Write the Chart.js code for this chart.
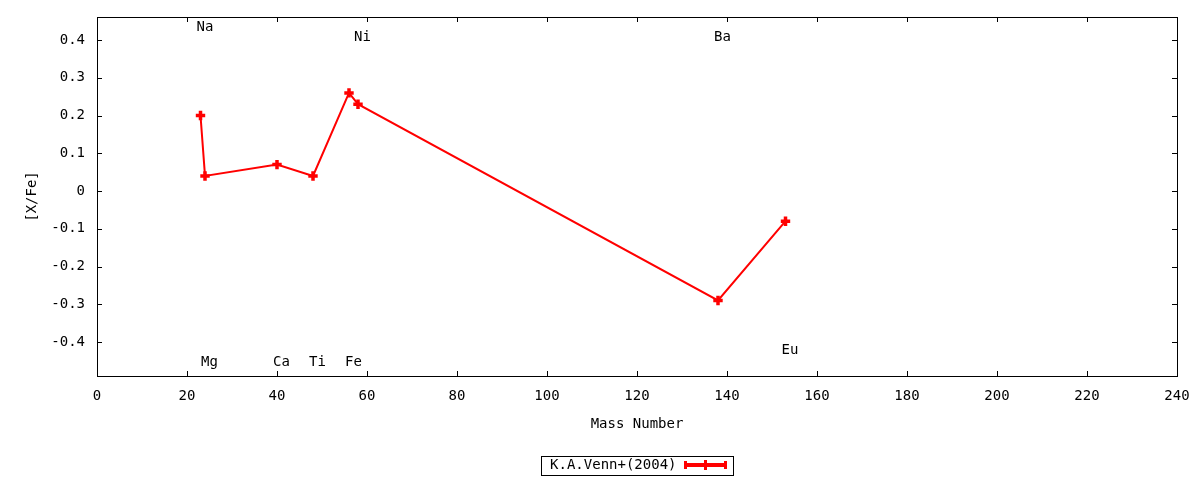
<!DOCTYPE html>
<html>
<head>
<meta charset="utf-8">
<script src="https://cdn.jsdelivr.net/npm/chart.js@4.4.1/dist/chart.umd.min.js"></script>
<style>
html, body { margin: 0; padding: 0; background: #fff; }
</style>
</head>
<body>
<canvas id="abundance-chart" width="1200" height="480"></canvas>
<script>
// values
const elements = ['Na', 'Mg', 'Ca', 'Ti', 'Fe', 'Ni', 'Ba', 'Eu'];
const massNumbers = [23, 24, 40, 48, 56, 58, 138, 153];
const xFe = [0.20, 0.04, 0.07, 0.04, 0.26, 0.23, -0.29, -0.08];

// where the element names sit (data coordinates)
const labelX = [24, 25, 41, 49, 57, 59, 139, 154];
const labelY = [0.433, -0.455, -0.455, -0.455, -0.455, 0.406, 0.406, -0.421];

const xTicks = [0, 20, 40, 60, 80, 100, 120, 140, 160, 180, 200, 220, 240];
const yTicks = [-0.4, -0.3, -0.2, -0.1, 0, 0.1, 0.2, 0.3, 0.4];

const seriesName = 'K.A.Venn+(2004)';
const FONT = { family: '"DejaVu Sans Mono", monospace', size: 14 };
const RED = '#ff0000';

// no auto padding from tick labels, so the plot box lands where the layout says
function noPad(s) {
    s.paddingTop = 0; s.paddingBottom = 0; s.paddingLeft = 0; s.paddingRight = 0;
}

// gnuplot-ish frame with inward ticks on all sides, element labels, legend
const gnuplotDecor = {
    id: 'gnuplotDecor',
    afterDatasetsDraw(chart) {
        const ctx = chart.ctx;
        const xs = chart.scales.x, ys = chart.scales.y;
        ctx.save();
        ctx.fillStyle = '#000';
        ctx.font = FONT.size + 'px ' + FONT.family;
        ctx.textAlign = 'center';
        ctx.textBaseline = 'middle';
        elements.forEach((name, i) => {
            ctx.fillText(name, xs.getPixelForValue(labelX[i]), ys.getPixelForValue(labelY[i]));
        });
        ctx.restore();
    },
    afterDraw(chart) {
        const ctx = chart.ctx;
        const { left, right, top, bottom } = chart.chartArea;
        const xs = chart.scales.x, ys = chart.scales.y;
        const tl = 5;
        ctx.save();
        ctx.strokeStyle = '#000';
        ctx.lineWidth = 1;
        ctx.strokeRect(Math.round(left) + 0.5, Math.round(top) + 0.5,
            Math.round(right - left), Math.round(bottom - top));
        ctx.beginPath();
        xTicks.forEach(v => {
            const px = Math.round(xs.getPixelForValue(v)) + 0.5;
            ctx.moveTo(px, bottom); ctx.lineTo(px, bottom - tl);
            ctx.moveTo(px, top); ctx.lineTo(px, top + tl);
        });
        yTicks.forEach(v => {
            const py = Math.round(ys.getPixelForValue(v)) + 0.5;
            ctx.moveTo(left, py); ctx.lineTo(left + tl, py);
            ctx.moveTo(right, py); ctx.lineTo(right - tl, py);
        });
        ctx.stroke();

        // legend box below the x title
        const cx = (left + right) / 2;
        const boxW = 192, boxH = 19, cy = 465;
        const bx = Math.round(cx - boxW / 2) + 0.5, by = Math.round(cy - boxH / 2) + 0.5;
        ctx.strokeRect(bx, by, boxW, boxH);
        ctx.fillStyle = '#000';
        ctx.font = FONT.size + 'px ' + FONT.family;
        ctx.textAlign = 'right';
        ctx.textBaseline = 'middle';
        ctx.fillText(seriesName, bx + 135, cy);
        // sample: thick line with end caps and a plus in the middle
        const sx0 = bx + 143, sx1 = bx + 185;
        ctx.strokeStyle = RED;
        ctx.lineWidth = 4;
        ctx.beginPath();
        ctx.moveTo(sx0, cy); ctx.lineTo(sx1, cy);
        ctx.stroke();
        ctx.lineWidth = 3;
        ctx.beginPath();
        ctx.moveTo(sx0 + 1, cy - 4); ctx.lineTo(sx0 + 1, cy + 4);
        ctx.moveTo(sx1 - 1, cy - 4); ctx.lineTo(sx1 - 1, cy + 4);
        ctx.moveTo((sx0 + sx1) / 2, cy - 5); ctx.lineTo((sx0 + sx1) / 2, cy + 5);
        ctx.stroke();
        ctx.restore();
    }
};

const ctx = document.getElementById('abundance-chart').getContext('2d');
new Chart(ctx, {
    type: 'line',
    data: {
        datasets: [{
            label: seriesName,
            data: massNumbers.map((m, i) => ({ x: m, y: xFe[i] })),
            borderColor: RED,
            backgroundColor: RED,
            borderWidth: 2,
            tension: 0,
            fill: false,
            pointStyle: 'cross',
            pointRadius: 4.7,
            pointBorderWidth: 3.5,
            pointBorderColor: RED,
            pointBackgroundColor: RED
        }]
    },
    options: {
        responsive: false,
        devicePixelRatio: 1,
        animation: false,
        layout: { padding: { left: 0, top: 17, right: 23, bottom: 40 } },
        plugins: {
            legend: { display: false }, // drawn by hand, gnuplot style
            tooltip: { enabled: false }
        },
        scales: {
            x: {
                type: 'linear',
                position: 'bottom',
                min: 0,
                max: 240,
                afterBuildTicks: s => { s.ticks = xTicks.map(v => ({ value: v })); },
                afterFit: s => { s.height = 64; noPad(s); },
                grid: { display: false, drawTicks: false },
                border: { display: false },
                ticks: { font: FONT, color: '#000', padding: 12, maxRotation: 0, autoSkip: false },
                title: { display: true, text: 'Mass Number', font: FONT, color: '#000', padding: { top: 0, bottom: 7 } }
            },
            y: {
                type: 'linear',
                min: -0.49,
                max: 0.461,
                afterBuildTicks: s => { s.ticks = yTicks.map(v => ({ value: v })); },
                afterFit: s => { s.width = 97; noPad(s); },
                grid: { display: false, drawTicks: false },
                border: { display: false },
                ticks: {
                    font: FONT, color: '#000', padding: 12, autoSkip: false,
                    callback: v => (Math.abs(v) < 1e-9 ? '0' : (Math.round(v * 10) / 10).toString())
                },
                title: { display: true, text: '[X/Fe]', font: FONT, color: '#000', padding: { top: 24, bottom: 0 } }
            }
        }
    },
    plugins: [gnuplotDecor]
});
</script>
</body>
</html>
